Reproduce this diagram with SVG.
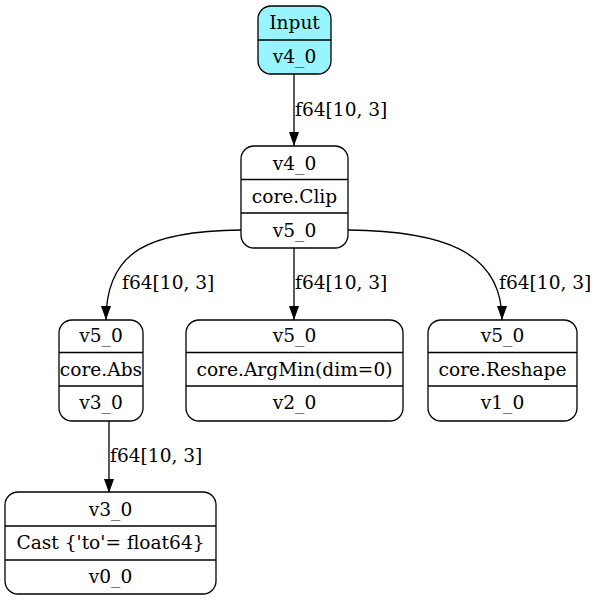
<svg xmlns="http://www.w3.org/2000/svg" width="597" height="601" viewBox="0 0 597 601">
<style>
.box{fill:#ffffff;stroke:#000;stroke-width:1.3}
.inp{fill:#98f5ff}
.div{stroke:#000;stroke-width:1.3}
text{font-family:"DejaVu Serif","Liberation Serif",serif;font-size:18.6px;fill:#000}
.c{text-anchor:middle}
.e{fill:none;stroke:#000;stroke-width:1.3}
</style>
<defs>
<marker id="ah" markerUnits="userSpaceOnUse" markerWidth="14" markerHeight="10" refX="14" refY="5" orient="auto">
<path d="M0,0 L14,5 L0,10 z" fill="#000"/>
</marker>
</defs>
<g id="connectors">
<path class="e" d="M294,74 L294,146" marker-end="url(#ah)"/>
<text x="295" y="116">f64[10, 3]</text>
<path class="e" d="M241,230 C150,231 106,250 106,320" marker-end="url(#ah)"/>
<text x="122" y="289">f64[10, 3]</text>
<path class="e" d="M294,248 L294,320" marker-end="url(#ah)"/>
<text x="295" y="289">f64[10, 3]</text>
<path class="e" d="M348,230 C440,231 502,250 502,320" marker-end="url(#ah)"/>
<text x="499" y="289">f64[10, 3]</text>
<path class="e" d="M109,421 L109,493" marker-end="url(#ah)"/>
<text x="110" y="462">f64[10, 3]</text>
</g>
<g id="input">
<rect class="box inp" x="258" y="6" width="73" height="68" rx="13"/>
<line class="div" x1="258" y1="40" x2="331" y2="40"/>
<text class="c" x="294.5" y="29">Input</text>
<text class="c" x="294.5" y="63">v4_0</text>
</g>
<g id="clip">
<rect class="box" x="241" y="146" width="107" height="102" rx="13"/>
<line class="div" x1="241" y1="179.5" x2="348" y2="179.5"/>
<line class="div" x1="241" y1="213" x2="348" y2="213"/>
<text class="c" x="294.5" y="170">v4_0</text>
<text class="c" x="294.5" y="203">core.Clip</text>
<text class="c" x="294.5" y="237">v5_0</text>
</g>
<g id="abs">
<rect class="box" x="59" y="320" width="84" height="101" rx="13"/>
<line class="div" x1="59" y1="352.5" x2="143" y2="352.5"/>
<line class="div" x1="59" y1="386" x2="143" y2="386"/>
<text class="c" x="101" y="342">v5_0</text>
<text class="c" x="101" y="376">core.Abs</text>
<text class="c" x="101" y="409">v3_0</text>
</g>
<g id="argmin">
<rect class="box" x="186" y="320" width="217" height="101" rx="13"/>
<line class="div" x1="186" y1="352.5" x2="403" y2="352.5"/>
<line class="div" x1="186" y1="386" x2="403" y2="386"/>
<text class="c" x="294.5" y="342">v5_0</text>
<text class="c" x="294.5" y="376">core.ArgMin(dim=0)</text>
<text class="c" x="294.5" y="409">v2_0</text>
</g>
<g id="reshape">
<rect class="box" x="428" y="320" width="149" height="101" rx="13"/>
<line class="div" x1="428" y1="352.5" x2="577" y2="352.5"/>
<line class="div" x1="428" y1="386" x2="577" y2="386"/>
<text class="c" x="502.5" y="342">v5_0</text>
<text class="c" x="502.5" y="376">core.Reshape</text>
<text class="c" x="502.5" y="409">v1_0</text>
</g>
<g id="cast">
<rect class="box" x="5" y="492" width="211" height="102" rx="13"/>
<line class="div" x1="5" y1="526" x2="216" y2="526"/>
<line class="div" x1="5" y1="560" x2="216" y2="560"/>
<text class="c" x="110.5" y="516">v3_0</text>
<text class="c" x="110.5" y="549">Cast {'to'= float64}</text>
<text class="c" x="110.5" y="583">v0_0</text>
</g>
</svg>
